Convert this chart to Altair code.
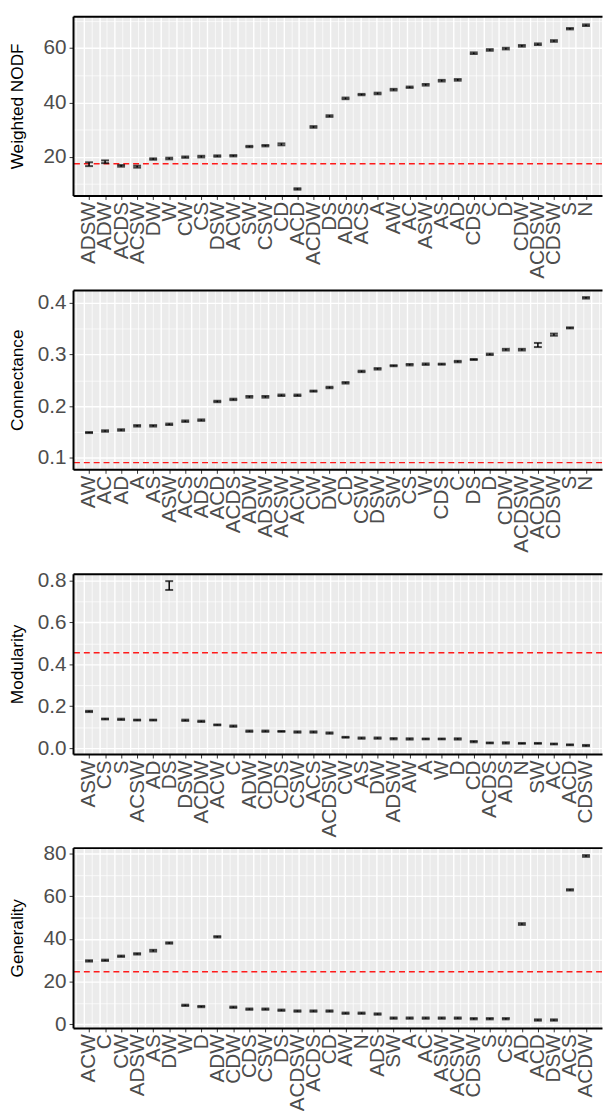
import json
import altair as alt
import pandas as pd

FONT = "Liberation Sans"

# ---------------- data ----------------
cats1 = ["ADSW", "ADW", "ACDS", "ACSW", "DW", "W", "CW", "CS", "DSW", "ACW", "SW", "CSW",
         "CD", "ACD", "ACDW", "DS", "ADS", "ACS", "A", "AW", "AC", "ASW", "AS", "AD",
         "CDS", "C", "D", "CDW", "ACDSW", "CDSW", "S", "N"]
vals1 = [17.3, 18.2, 16.7, 16.4, 19.2, 19.4, 19.9, 20.1, 20.3, 20.4, 23.8, 24.1,
         24.6, 8.2, 31.0, 35.0, 41.5, 42.9, 43.3, 44.7, 45.6, 46.5, 48.0, 48.3,
         58.1, 59.3, 59.8, 60.8, 61.4, 62.6, 67.1, 68.4]
errs1 = [0.7, 0.5, 0.3, 0.35, 0.25, 0.3, 0.25, 0.3, 0.25, 0.25, 0.25, 0.25,
         0.35, 0.25, 0.3, 0.3, 0.3, 0.25, 0.3, 0.3, 0.25, 0.3, 0.3, 0.3,
         0.3, 0.3, 0.3, 0.3, 0.3, 0.3, 0.25, 0.3]

cats2 = ["AW", "AC", "AD", "A", "AS", "ASW", "ACS", "ADS", "ACD", "ACDS", "ADW", "ADSW",
         "ACSW", "ACW", "CW", "DW", "CD", "CSW", "DSW", "SW", "CS", "W", "CDS", "C",
         "DS", "D", "CDW", "ACDSW", "ACDW", "CDSW", "S", "N"]
vals2 = [0.149, 0.152, 0.154, 0.162, 0.162, 0.165, 0.171, 0.173, 0.209, 0.213, 0.218, 0.218,
         0.221, 0.221, 0.229, 0.236, 0.245, 0.267, 0.272, 0.278, 0.280, 0.281, 0.281, 0.286,
         0.290, 0.300, 0.309, 0.309, 0.318, 0.338, 0.351, 0.409]
errs2 = [0.001, 0.0014, 0.0014, 0.0014, 0.0014, 0.0014, 0.0014, 0.0014, 0.0014, 0.0014, 0.0016, 0.0016,
         0.0014, 0.0014, 0.001, 0.0014, 0.0014, 0.0014, 0.0014, 0.001, 0.0014, 0.0014, 0.001, 0.0014,
         0.001, 0.0014, 0.0016, 0.0016, 0.004, 0.002, 0.001, 0.0014]

cats3 = ["ASW", "CS", "S", "ACSW", "AD", "DS", "DSW", "ACDW", "ACW", "C", "ADW", "CDW",
         "CDS", "CSW", "ACS", "ACDSW", "CW", "AS", "DW", "ADSW", "AW", "A", "W", "D",
         "CD", "ACDS", "ADS", "N", "SW", "AC", "ACD", "CDSW"]
vals3 = [0.175, 0.139, 0.1375, 0.134, 0.134, 0.775, 0.133, 0.128, 0.111, 0.105, 0.081, 0.081,
         0.080, 0.077, 0.077, 0.072, 0.052, 0.048, 0.048, 0.045, 0.044, 0.044, 0.044, 0.044,
         0.031, 0.025, 0.025, 0.023, 0.023, 0.020, 0.016, 0.0125]
errs3 = [0.003, 0.002, 0.003, 0.002, 0.002, 0.021, 0.003, 0.003, 0.002, 0.003, 0.003, 0.003,
         0.002, 0.003, 0.003, 0.003, 0.002, 0.003, 0.003, 0.003, 0.003, 0.002, 0.002, 0.003,
         0.003, 0.002, 0.003, 0.002, 0.002, 0.002, 0.002, 0.003]

cats4 = ["ACW", "C", "CW", "ADSW", "AS", "DW", "W", "D", "ADW", "CDW", "CDS", "CSW",
         "DS", "ACDSW", "ACDS", "CD", "AW", "N", "ADS", "SW", "A", "AC", "ASW", "ACSW",
         "CDSW", "S", "CS", "AD", "ACD", "DSW", "ACS", "ACDW"]
vals4 = [29.7, 30.0, 31.9, 33.0, 34.5, 38.1, 8.9, 8.3, 41.0, 8.0, 7.1, 7.1,
         6.6, 6.2, 6.2, 6.2, 5.2, 5.2, 4.8, 2.9, 2.9, 2.9, 2.9, 2.9,
         2.6, 2.6, 2.6, 47.0, 2.0, 2.0, 63.0, 78.9]
errs4 = [0.3, 0.3, 0.3, 0.3, 0.4, 0.3, 0.3, 0.3, 0.3, 0.3, 0.3, 0.3,
         0.3, 0.3, 0.3, 0.3, 0.3, 0.3, 0.3, 0.3, 0.3, 0.3, 0.3, 0.3,
         0.3, 0.3, 0.3, 0.4, 0.3, 0.3, 0.3, 0.4]

titles = ["Weighted NODF", "Connectance", "Modularity", "Generality"]
thresholds = [17.5, 0.091, 0.455, 24.6]
domains = [[5.8, 71.7], [0.078, 0.424], [-0.028, 0.831], [-1.7, 82.8]]
major_ticks = [[20, 40, 60], [0.1, 0.2, 0.3, 0.4], [0.0, 0.2, 0.4, 0.6, 0.8], [0, 20, 40, 60, 80]]
minor_ticks = [[10, 30, 50, 70], [0.15, 0.25, 0.35], [0.1, 0.3, 0.5, 0.7], [10, 30, 50, 70]]
formats = ["d", ".1f", ".1f", "d"]
heights = [182, 182, 183, 183]
# space reserved below each panel for its category labels
label_space = [90.3, 95.7, 84.9, 84]

WIDTH = 537
PAD = 1.71


def panel(cats, vals, errs, thr, title, dom, majors, minors, fmt, height, lspace):
    n = len(cats)
    df = pd.DataFrame({"cat": cats, "val": vals, "err": errs})
    df["lo"] = df["val"] - df["err"]
    df["hi"] = df["val"] + df["err"]
    df["idx"] = list(range(n))

    yscale = alt.Scale(domain=dom, nice=False, zero=False)
    xscale = alt.Scale(type="point", domain=cats, padding=PAD)

    yaxis = alt.Axis(
        orient="left", title=title, values=majors, format=fmt, grid=False,
        labelFont=FONT, labelFontSize=21, labelColor="#4D4D4D", labelPadding=3,
        tickColor="#333333", tickSize=4, tickWidth=1,
        domainColor="black", domainWidth=2,
        titleFont=FONT, titleFontSize=17.5, titleFontWeight="normal", titleColor="black",
        titlePadding=10, minExtent=37, maxExtent=37, zindex=1,
    )
    xaxis = alt.Axis(
        orient="bottom", title=None, labelAngle=-90, labelOverlap=False,
        labelFont=FONT, labelFontSize=21, labelColor="#4D4D4D", labelPadding=2,
        tickColor="#333333", tickSize=4, tickWidth=1,
        domainColor="black", domainWidth=2, grid=False, zindex=1,
        minExtent=lspace,
    )
    x_main = alt.X("cat:N", scale=xscale, axis=xaxis)

    base = alt.Chart(df)

    # grid-only layer (ggplot-style major + minor grid)
    gx_vals = [i / 2 for i in range(-3, 2 * n + 2)]
    gy_vals = sorted(majors + minors)
    grid = base.mark_point(opacity=0, size=1).encode(
        x=alt.X("idx:Q", scale=alt.Scale(domain=[-PAD, n - 1 + PAD], nice=False, zero=False),
                axis=alt.Axis(orient="top", values=gx_vals, grid=True, gridColor="white",
                              gridWidth={"condition": {"test": "datum.value % 1 === 0", "value": 1.4},
                                         "value": 0.7},
                              labels=False, ticks=False, domain=True, domainColor="black",
                              domainWidth=2, title=None, minExtent=0, maxExtent=0)),
        y=alt.Y("val:Q", scale=yscale,
                axis=alt.Axis(orient="right", values=gy_vals, grid=True, gridColor="white",
                              gridWidth={"condition": {"test": "indexof(" + json.dumps(majors) + ", datum.value) >= 0",
                                                       "value": 1.4},
                                         "value": 0.7},
                              labels=False, ticks=False, domain=False, title=None,
                              minExtent=0, maxExtent=0)),
    )

    hline = alt.Chart(pd.DataFrame({"thr": [thr]})).mark_rule(
        color="#FF1A1A", strokeDash=[6, 4], strokeWidth=1.5
    ).encode(y=alt.Y("thr:Q", scale=yscale, axis=yaxis))

    stem = base.mark_rule(color="black", strokeWidth=1.5).encode(
        x=x_main, y=alt.Y("lo:Q", scale=yscale, axis=yaxis), y2="hi:Q")
    cap_lo = base.mark_tick(color="black", size=8, thickness=2, orient="horizontal").encode(
        x=x_main, y=alt.Y("lo:Q", scale=yscale, axis=yaxis))
    cap_hi = base.mark_tick(color="black", size=8, thickness=2, orient="horizontal").encode(
        x=x_main, y=alt.Y("hi:Q", scale=yscale, axis=yaxis))

    main = alt.layer(hline, stem, cap_lo, cap_hi)
    return (
        alt.layer(grid, main)
        .resolve_scale(x="independent")
        .resolve_axis(x="independent", y="independent")
        .properties(width=WIDTH, height=height)
    )


cats_all = [cats1, cats2, cats3, cats4]
vals_all = [vals1, vals2, vals3, vals4]
errs_all = [errs1, errs2, errs3, errs4]

panels = [
    panel(cats_all[i], vals_all[i], errs_all[i], thresholds[i], titles[i], domains[i],
          major_ticks[i], minor_ticks[i], formats[i], heights[i], label_space[i])
    for i in range(4)
]

chart = (
    alt.vconcat(*panels, spacing=5, bounds="full")
    .properties(padding={"left": 1, "top": 0, "right": 0, "bottom": -9}, background="white")
    .configure_view(fill="#EBEBEB", stroke=None)
)

chart.save("out.html", embed_options={"renderer": "svg", "actions": False})
